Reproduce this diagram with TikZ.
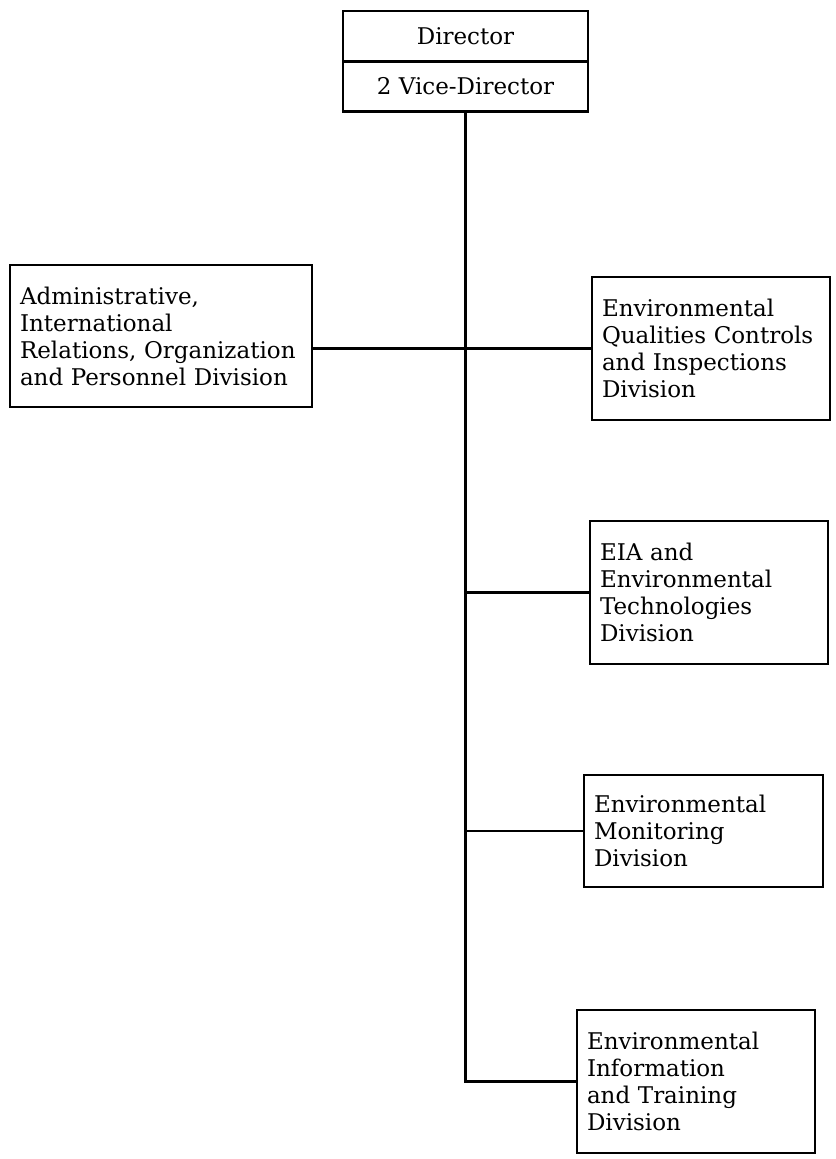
\documentclass[tikz,border=0pt]{standalone}
\usepackage{fontspec}
\setmainfont{DejaVu Serif}
\begin{document}
\begin{tikzpicture}[x=0.5pt,y=-0.5pt,line width=1.1pt,
	box/.style={draw,inner xsep=5pt,inner ysep=3pt,align=left,font=\fontsize{11.5}{13.5}\selectfont},
	head/.style={draw,minimum width=122.5pt,minimum height=25pt,inner sep=0pt,font=\fontsize{11.5}{13}\selectfont}]
	\useasboundingbox (0,0) rectangle (835,1159);
	% Director
	\node[head] (dir) at (465.5,36) {Director};
	\node[head] (vice) at (465.5,86.5) {2 Vice-Director};
	% Left division
	\node[box,text width=141pt,minimum height=71pt] (adm) at (161,336) {Administrative,\\International\\Relations, Organization\\and Personnel Division};
	% Right divisions
	\node[box,text width=109pt,minimum height=71.5pt] (eqc) at (711,348.5) {Environmental\\Qualities Controls\\and Inspections\\Division};
	\node[box,text width=109pt,minimum height=71.5pt] (eia) at (709,592.5) {EIA and\\Environmental\\Technologies\\Division};
	\node[box,text width=109.5pt,minimum height=56pt] (mon) at (703.5,831) {Environmental\\Monitoring\\Division};
	\node[box,text width=109pt,minimum height=71.5pt] (info) at (696,1081.5) {Environmental\\Information\\and Training\\Division};
	% Lines
	\draw (vice.south) |- (info.west);
	\draw (adm.east |- eqc.west) -- (eqc.west);
	\draw (vice.south |- eia.west) -- (eia.west);
	\draw (vice.south |- mon.west) -- (mon.west);
\end{tikzpicture}
\end{document}
